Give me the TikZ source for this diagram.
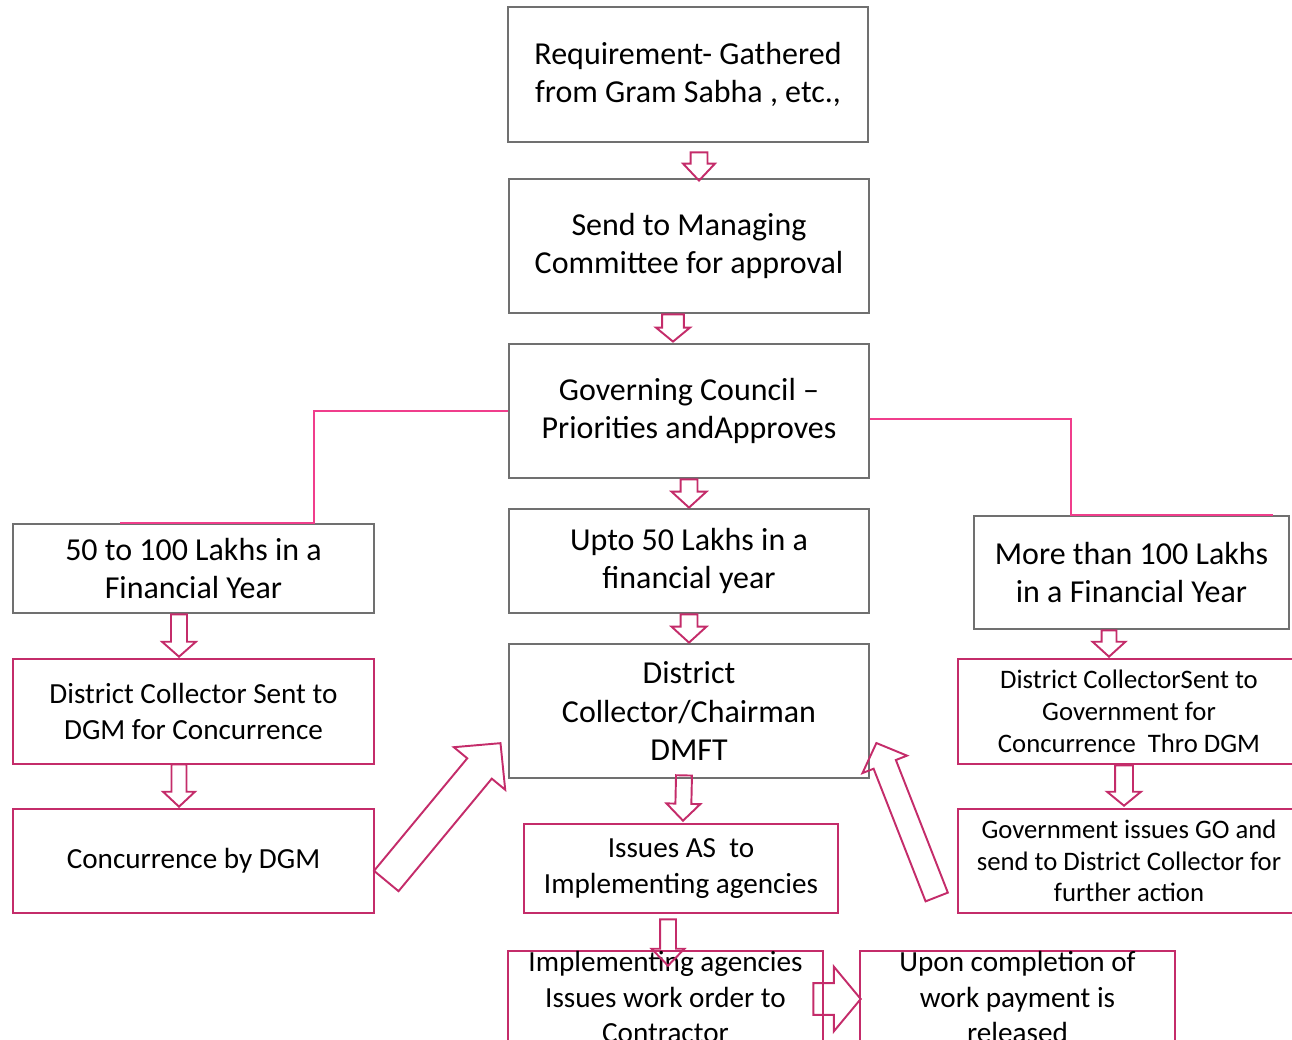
\documentclass[tikz,border=0pt]{standalone}
\usepackage{fontspec}
\setmainfont{Carlito}
\usepackage{tikz}
\usetikzlibrary{calc}
\definecolor{boxgray}{RGB}{112,112,112}
\definecolor{dmftred}{RGB}{196,44,106}
\definecolor{linkpink}{RGB}{240,62,140}
\tikzset{stepgray/.style = {draw = boxgray, line width = 1.6pt, align = center, inner sep = 0},
  stepred/.style = {draw = dmftred, line width = 1.5pt, align = center, inner sep = 0},
  bigtext/.style = {font = \fontsize{18.2}{22}\selectfont},
  midtext/.style = {font = \fontsize{16.6}{20.3}\selectfont},
  smalltext/.style = {font = \fontsize{15.2}{18.1}\selectfont},
  link/.style = {draw = linkpink, line width = 1.1pt},
  blockarr/.style = {draw = dmftred, line width = 1.1pt, line join = miter}}
\def\pxu{0.56693pt}
% hollow block arrow: tail, tip, shaft half width, head half width, head length (px)
\newcommand{\blockarrow}[5]{%
  \draw [blockarr] let \p1 = (#1), \p2 = (#2), \n1 = {atan2(\y2-\y1,\x2-\x1)},
    \n2 = {veclen(\x2-\x1,\y2-\y1)} in [shift = {(\p1)}, rotate = \n1]
    (0pt,{-#3*\pxu}) -- ({\n2-#5*\pxu},{-#3*\pxu}) -- ({\n2-#5*\pxu},{-#4*\pxu}) -- (\n2,0pt)
    -- ({\n2-#5*\pxu},{#4*\pxu}) -- ({\n2-#5*\pxu},{#3*\pxu}) -- (0pt,{#3*\pxu}) -- cycle;}

\begin{document}
\begin{tikzpicture}[x = 0.02cm, y = -0.02cm]
  \useasboundingbox (0,0) rectangle (1292,1040);
  \clip (0,0) rectangle (1292,1040);

  % centre column
  \node [stepgray, bigtext, minimum width = 7.2cm, minimum height = 2.7cm] (require) at (688, 74.5)
    {Requirement- Gathered\\from Gram Sabha , etc.,};
  \node [stepgray, bigtext, minimum width = 7.2cm, minimum height = 2.68cm] (managing) at (689, 246)
    {Send to Managing\\Committee for approval};
  \node [stepgray, bigtext, minimum width = 7.2cm, minimum height = 2.68cm] (council) at (689, 411)
    {Governing Council --\\Priorities andApproves};
  \node [stepgray, bigtext, minimum width = 7.2cm, minimum height = 2.08cm] (upto) at (689, 561)
    {Upto 50 Lakhs in a\\financial year};
  \node [stepgray, bigtext, minimum width = 7.2cm, minimum height = 2.68cm] (dmft) at (689, 711)
    {District\\Collector/Chairman\\DMFT};
  \node [stepred, midtext, minimum width = 6.28cm, minimum height = 1.78cm] (issueas) at (681, 868.5)
    {Issues AS\ \ to\\Implementing agencies};
  \node [stepred, midtext, minimum width = 6.3cm, minimum height = 1.84cm] (workorder) at (665.5, 997)
    {Implementing agencies\\Issues work order to\\Contractor};
  \node [stepred, midtext, minimum width = 6.3cm, minimum height = 1.84cm] (payment) at (1017.5, 997)
    {Upon completion of\\work payment is\\released};

  % left column
  \node [stepgray, bigtext, minimum width = 7.22cm, minimum height = 1.78cm] (midrange) at (193.5, 568.5)
    {50 to 100 Lakhs in a\\Financial Year};
  \node [stepred, midtext, minimum width = 7.22cm, minimum height = 2.1cm] (dcdgm) at (193.5, 711.5)
    {District Collector Sent to\\DGM for Concurrence};
  \node [stepred, midtext, minimum width = 7.22cm, minimum height = 2.08cm] (dgmconc) at (193.5, 861)
    {Concurrence by DGM};

  % right column
  \node [stepgray, bigtext, minimum width = 6.3cm, minimum height = 2.26cm] (highrange) at (1131.5, 572.5)
    {More than 100 Lakhs\\in a Financial Year};
  \node [stepred, smalltext, minimum width = 6.84cm, minimum height = 2.1cm] (dcgovt) at (1129, 711.5)
    {District CollectorSent to\\Government for\\Concurrence\ \ Thro DGM};
  \node [stepred, smalltext, minimum width = 6.84cm, minimum height = 2.08cm] (govtgo) at (1129, 861)
    {Government issues GO and\\send to District Collector for\\further action};

  % branches out of the council
  \draw [link] (council.west) -| ([xshift = 2.41cm]midrange.north) -- ([xshift = -1.47cm]midrange.north);
  \draw [link] ([yshift = -0.16cm]council.east) -| ([xshift = -1.21cm]highrange.north)
    -- ([xshift = 2.83cm]highrange.north);

  % block arrows
  \blockarrow{$(require.south)+(11,9)$}{$(managing.north)+(10,3)$}{8.5}{16}{17}
  \blockarrow{$(managing.south)+(-16,0)$}{$(council.north)+(-16,-1)$}{11}{17}{14}
  \blockarrow{council.south}{upto.north}{8.5}{17.5}{16}
  \blockarrow{upto.south}{dmft.north}{8.5}{17.5}{16}
  \blockarrow{$(midrange.south)+(-14.5,0)$}{$(dcdgm.north)+(-14.5,-1)$}{8}{17}{15}
  \blockarrow{$(dcdgm.south)+(-14.5,-1)$}{$(dgmconc.north)+(-14.5,-1)$}{7.5}{16}{15}
  \blockarrow{$(highrange.south)+(-22.5,0)$}{$(dcgovt.north)+(-20,-1)$}{7.5}{16.5}{15}
  \blockarrow{$(dcgovt.south)+(-5,0)$}{$(govtgo.north)+(-5,-2)$}{9}{17}{14}
  \blockarrow{$(dmft.south)+(-5,-4)$}{$(issueas.north)+(2,-2)$}{8}{17}{17}
  \blockarrow{$(issueas.south)+(-13,5)$}{$(workorder.north)+(2.5,16)$}{8}{16.5}{17}
  \blockarrow{$(workorder.east)+(-11,2)$}{$(payment.west)+(2,2)$}{16}{32.5}{27}
  \blockarrow{$(dgmconc.east)+(11,20)$}{$(dmft.west)+(-7,32)$}{16}{33.5}{33}
  \blockarrow{$(govtgo.west)+(-20,36)$}{$(dmft.east)+(6,32)$}{12}{24}{23}
\end{tikzpicture}
\end{document}
